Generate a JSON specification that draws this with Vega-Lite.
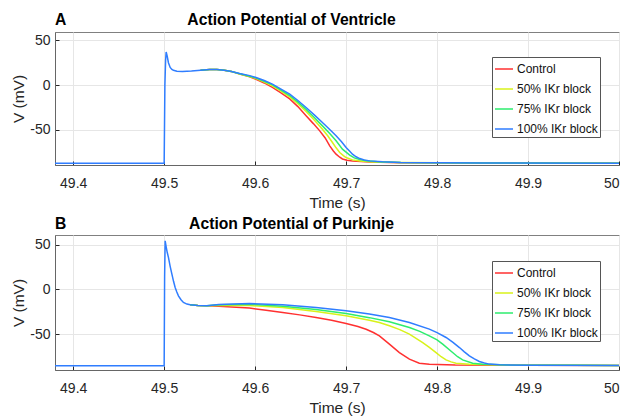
{
"$schema": "https://vega.github.io/schema/vega-lite/v6.json",
"padding": {"left": 11, "top": 11, "right": 5, "bottom": 1},
"spacing": 4,
"resolve": {"legend": {"color": "independent"}},
"config": {
  "font": "Liberation Sans",
  "view": {"stroke": "#808080", "strokeWidth": 1},
  "axis": {"labelFontSize": 14, "labelColor": "#262626", "titleFontSize": 15.5, "titleFontWeight": "normal", "titleColor": "#262626", "gridColor": "#e6e6e6", "gridWidth": 1, "tickColor": "#262626", "tickSize": -4, "domainColor": "#666666"},
  "axisX": {"labelPadding": 15, "titlePadding": 5},
  "axisY": {"labelPadding": 9, "titlePadding": 3},
  "legend": {"orient": "none", "symbolType": "stroke", "symbolSize": 324, "symbolStrokeWidth": 1.5, "labelFontSize": 12, "labelColor": "#111111", "strokeColor": "#555555", "fillColor": "#ffffff", "padding": 2, "rowPadding": 4, "labelOffset": 3}
},
"datasets": {
"ven": [
{"s":"Control","t":49.54,"v":16.7},{"s":"Control","t":49.55,"v":17.3},{"s":"Control","t":49.558,"v":17.4},{"s":"Control","t":49.566,"v":16.6},{"s":"Control","t":49.574,"v":15.3},
{"s":"Control","t":49.583,"v":12.3},{"s":"Control","t":49.594,"v":9.3},{"s":"Control","t":49.601,"v":6.6},{"s":"Control","t":49.61,"v":2.4},{"s":"Control","t":49.619,"v":-2.6},{"s":"Control","t":49.628,"v":-8.5},{"s":"Control","t":49.638,"v":-15.4},{"s":"Control","t":49.647,"v":-24},{"s":"Control","t":49.656,"v":-34.2},{"s":"Control","t":49.664,"v":-43},{"s":"Control","t":49.671,"v":-51.1},{"s":"Control","t":49.677,"v":-59},{"s":"Control","t":49.682,"v":-67.8},{"s":"Control","t":49.686,"v":-73.5},{"s":"Control","t":49.689,"v":-77.1},{"s":"Control","t":49.693,"v":-80.5},{"s":"Control","t":49.696,"v":-82.5},{"s":"Control","t":49.701,"v":-84},{"s":"Control","t":49.707,"v":-84.8},{"s":"Control","t":49.726,"v":-85.8},{"s":"Control","t":49.76,"v":-86.6},{"s":"Control","t":49.85,"v":-87},{"s":"Control","t":50,"v":-87.2},
{"s":"50% IKr block","t":49.54,"v":16.7},{"s":"50% IKr block","t":49.55,"v":17.3},{"s":"50% IKr block","t":49.558,"v":17.4},{"s":"50% IKr block","t":49.566,"v":16.6},{"s":"50% IKr block","t":49.574,"v":15.3},
{"s":"50% IKr block","t":49.583,"v":12.4},{"s":"50% IKr block","t":49.594,"v":9.6},{"s":"50% IKr block","t":49.601,"v":7.2},{"s":"50% IKr block","t":49.61,"v":3.5},{"s":"50% IKr block","t":49.619,"v":-0.8},{"s":"50% IKr block","t":49.628,"v":-6.3},{"s":"50% IKr block","t":49.638,"v":-13.1},{"s":"50% IKr block","t":49.647,"v":-20.8},{"s":"50% IKr block","t":49.656,"v":-29.5},{"s":"50% IKr block","t":49.665,"v":-39},{"s":"50% IKr block","t":49.674,"v":-49.2},{"s":"50% IKr block","t":49.68,"v":-56.8},{"s":"50% IKr block","t":49.685,"v":-64.1},{"s":"50% IKr block","t":49.689,"v":-70},{"s":"50% IKr block","t":49.693,"v":-75.3},{"s":"50% IKr block","t":49.697,"v":-78.8},{"s":"50% IKr block","t":49.7,"v":-80.9},{"s":"50% IKr block","t":49.707,"v":-83.5},{"s":"50% IKr block","t":49.715,"v":-84.8},{"s":"50% IKr block","t":49.73,"v":-85.8},{"s":"50% IKr block","t":49.76,"v":-86.5},{"s":"50% IKr block","t":49.85,"v":-87},{"s":"50% IKr block","t":50,"v":-87.2},
{"s":"75% IKr block","t":49.54,"v":16.7},{"s":"75% IKr block","t":49.55,"v":17.3},{"s":"75% IKr block","t":49.558,"v":17.4},{"s":"75% IKr block","t":49.566,"v":16.6},{"s":"75% IKr block","t":49.574,"v":15.3},
{"s":"75% IKr block","t":49.583,"v":12.6},{"s":"75% IKr block","t":49.594,"v":9.9},{"s":"75% IKr block","t":49.601,"v":7.8},{"s":"75% IKr block","t":49.61,"v":4.3},{"s":"75% IKr block","t":49.619,"v":0.3},{"s":"75% IKr block","t":49.628,"v":-5.2},{"s":"75% IKr block","t":49.638,"v":-11.6},{"s":"75% IKr block","t":49.647,"v":-19},{"s":"75% IKr block","t":49.656,"v":-27.3},{"s":"75% IKr block","t":49.665,"v":-36.2},{"s":"75% IKr block","t":49.674,"v":-45.5},{"s":"75% IKr block","t":49.682,"v":-54},{"s":"75% IKr block","t":49.689,"v":-62.2},{"s":"75% IKr block","t":49.696,"v":-71.5},{"s":"75% IKr block","t":49.704,"v":-78.2},{"s":"75% IKr block","t":49.709,"v":-81.3},{"s":"75% IKr block","t":49.715,"v":-83.1},{"s":"75% IKr block","t":49.722,"v":-84.4},{"s":"75% IKr block","t":49.735,"v":-85.5},{"s":"75% IKr block","t":49.76,"v":-86.4},{"s":"75% IKr block","t":49.85,"v":-87},{"s":"75% IKr block","t":50,"v":-87.2},
{"s":"100% IKr block","t":49.38,"v":-87.3},{"s":"100% IKr block","t":49.5,"v":-87.3},{"s":"100% IKr block","t":49.5008,"v":0},{"s":"100% IKr block","t":49.5016,"v":28},{"s":"100% IKr block","t":49.5022,"v":37},{"s":"100% IKr block","t":49.5034,"v":32},{"s":"100% IKr block","t":49.5047,"v":25},{"s":"100% IKr block","t":49.5066,"v":19.7},{"s":"100% IKr block","t":49.5085,"v":17.5},{"s":"100% IKr block","t":49.5102,"v":16.5},{"s":"100% IKr block","t":49.514,"v":15.6},{"s":"100% IKr block","t":49.52,"v":15.3},{"s":"100% IKr block","t":49.53,"v":15.8},{"s":"100% IKr block","t":49.54,"v":16.7},{"s":"100% IKr block","t":49.55,"v":17.3},{"s":"100% IKr block","t":49.558,"v":17.4},{"s":"100% IKr block","t":49.566,"v":16.6},{"s":"100% IKr block","t":49.574,"v":15.3},
{"s":"100% IKr block","t":49.583,"v":13},{"s":"100% IKr block","t":49.594,"v":10.6},{"s":"100% IKr block","t":49.601,"v":8.5},{"s":"100% IKr block","t":49.61,"v":5.1},{"s":"100% IKr block","t":49.619,"v":1.1},{"s":"100% IKr block","t":49.628,"v":-4.1},{"s":"100% IKr block","t":49.638,"v":-10.1},{"s":"100% IKr block","t":49.647,"v":-17.2},{"s":"100% IKr block","t":49.656,"v":-25},{"s":"100% IKr block","t":49.665,"v":-33.2},{"s":"100% IKr block","t":49.674,"v":-41.8},{"s":"100% IKr block","t":49.682,"v":-49.5},{"s":"100% IKr block","t":49.689,"v":-56.6},{"s":"100% IKr block","t":49.695,"v":-63.3},{"s":"100% IKr block","t":49.7,"v":-69.7},{"s":"100% IKr block","t":49.704,"v":-73.8},{"s":"100% IKr block","t":49.707,"v":-77.1},{"s":"100% IKr block","t":49.711,"v":-80},{"s":"100% IKr block","t":49.715,"v":-82},{"s":"100% IKr block","t":49.72,"v":-83.5},{"s":"100% IKr block","t":49.726,"v":-84.6},{"s":"100% IKr block","t":49.74,"v":-85.7},{"s":"100% IKr block","t":49.76,"v":-86.3},{"s":"100% IKr block","t":49.85,"v":-86.9},{"s":"100% IKr block","t":50,"v":-87.2}
],
"pur": [
{"s":"Control","t":49.5286,"v":-17.2},{"s":"Control","t":49.537,"v":-17.9},{"s":"Control","t":49.547,"v":-18.2},
{"s":"Control","t":49.56,"v":-18.9},{"s":"Control","t":49.5937,"v":-20.9},{"s":"Control","t":49.612,"v":-23.2},{"s":"Control","t":49.6303,"v":-25.8},{"s":"Control","t":49.649,"v":-28.5},{"s":"Control","t":49.667,"v":-31.5},{"s":"Control","t":49.684,"v":-34.6},{"s":"Control","t":49.7,"v":-38.2},{"s":"Control","t":49.713,"v":-41.6},{"s":"Control","t":49.722,"v":-44.7},{"s":"Control","t":49.73,"v":-48.3},{"s":"Control","t":49.7366,"v":-52},{"s":"Control","t":49.7476,"v":-61.3},{"s":"Control","t":49.7586,"v":-70.8},{"s":"Control","t":49.7696,"v":-78.2},{"s":"Control","t":49.7805,"v":-82.7},{"s":"Control","t":49.7915,"v":-84},{"s":"Control","t":49.82,"v":-84.9},{"s":"Control","t":49.9,"v":-85.2},{"s":"Control","t":50,"v":-85.3},
{"s":"50% IKr block","t":49.5286,"v":-17.2},{"s":"50% IKr block","t":49.537,"v":-17.9},{"s":"50% IKr block","t":49.547,"v":-18.2},
{"s":"50% IKr block","t":49.56,"v":-17.9},{"s":"50% IKr block","t":49.5937,"v":-18},{"s":"50% IKr block","t":49.6303,"v":-20.2},{"s":"50% IKr block","t":49.667,"v":-24.7},{"s":"50% IKr block","t":49.7,"v":-29.6},{"s":"50% IKr block","t":49.7256,"v":-34.5},{"s":"50% IKr block","t":49.7366,"v":-37.1},{"s":"50% IKr block","t":49.7476,"v":-40.8},{"s":"50% IKr block","t":49.759,"v":-45},{"s":"50% IKr block","t":49.7696,"v":-50.1},{"s":"50% IKr block","t":49.7842,"v":-59.6},{"s":"50% IKr block","t":49.7915,"v":-65},{"s":"50% IKr block","t":49.7989,"v":-70.8},{"s":"50% IKr block","t":49.8045,"v":-75.5},{"s":"50% IKr block","t":49.8099,"v":-79},{"s":"50% IKr block","t":49.8155,"v":-81.3},{"s":"50% IKr block","t":49.8209,"v":-82.7},{"s":"50% IKr block","t":49.8355,"v":-84},{"s":"50% IKr block","t":49.87,"v":-84.9},{"s":"50% IKr block","t":49.95,"v":-85.2},{"s":"50% IKr block","t":50,"v":-85.3},
{"s":"75% IKr block","t":49.5286,"v":-17.2},{"s":"75% IKr block","t":49.537,"v":-17.9},{"s":"75% IKr block","t":49.547,"v":-18.2},
{"s":"75% IKr block","t":49.56,"v":-17.2},{"s":"75% IKr block","t":49.5937,"v":-16.5},{"s":"75% IKr block","t":49.6303,"v":-18.7},{"s":"75% IKr block","t":49.667,"v":-22.5},{"s":"75% IKr block","t":49.7,"v":-27},{"s":"75% IKr block","t":49.7256,"v":-31.6},{"s":"75% IKr block","t":49.7476,"v":-36.3},{"s":"75% IKr block","t":49.7696,"v":-42.7},{"s":"75% IKr block","t":49.781,"v":-47},{"s":"75% IKr block","t":49.7915,"v":-52},{"s":"75% IKr block","t":49.8,"v":-56.5},{"s":"75% IKr block","t":49.8062,"v":-61.3},{"s":"75% IKr block","t":49.8171,"v":-70.8},{"s":"75% IKr block","t":49.8226,"v":-75.5},{"s":"75% IKr block","t":49.8281,"v":-79},{"s":"75% IKr block","t":49.8391,"v":-82.7},{"s":"75% IKr block","t":49.8501,"v":-84},{"s":"75% IKr block","t":49.88,"v":-84.9},{"s":"75% IKr block","t":49.95,"v":-85.2},{"s":"75% IKr block","t":50,"v":-85.3},
{"s":"100% IKr block","t":49.38,"v":-85.5},{"s":"100% IKr block","t":49.5,"v":-85.5},{"s":"100% IKr block","t":49.5005,"v":15},{"s":"100% IKr block","t":49.5011,"v":54.7},{"s":"100% IKr block","t":49.5022,"v":48},{"s":"100% IKr block","t":49.5034,"v":41.5},{"s":"100% IKr block","t":49.5047,"v":36},{"s":"100% IKr block","t":49.5066,"v":26},{"s":"100% IKr block","t":49.5085,"v":17.3},{"s":"100% IKr block","t":49.5103,"v":9.2},{"s":"100% IKr block","t":49.5121,"v":2.2},{"s":"100% IKr block","t":49.5139,"v":-2.8},{"s":"100% IKr block","t":49.5157,"v":-7.1},{"s":"100% IKr block","t":49.5185,"v":-11.5},{"s":"100% IKr block","t":49.5212,"v":-14.6},{"s":"100% IKr block","t":49.525,"v":-16.4},{"s":"100% IKr block","t":49.5286,"v":-17.2},{"s":"100% IKr block","t":49.537,"v":-17.9},{"s":"100% IKr block","t":49.547,"v":-18.2},
{"s":"100% IKr block","t":49.56,"v":-16.8},{"s":"100% IKr block","t":49.5937,"v":-15.7},{"s":"100% IKr block","t":49.6303,"v":-17.2},{"s":"100% IKr block","t":49.667,"v":-20.2},{"s":"100% IKr block","t":49.7,"v":-23.9},{"s":"100% IKr block","t":49.7256,"v":-27.6},{"s":"100% IKr block","t":49.7476,"v":-31.5},{"s":"100% IKr block","t":49.7696,"v":-37.1},{"s":"100% IKr block","t":49.7915,"v":-44.5},{"s":"100% IKr block","t":49.8,"v":-48.5},{"s":"100% IKr block","t":49.8099,"v":-53.9},{"s":"100% IKr block","t":49.8175,"v":-59.3},{"s":"100% IKr block","t":49.8246,"v":-65.2},{"s":"100% IKr block","t":49.83,"v":-70},{"s":"100% IKr block","t":49.8355,"v":-74.5},{"s":"100% IKr block","t":49.841,"v":-78},{"s":"100% IKr block","t":49.8465,"v":-80.9},{"s":"100% IKr block","t":49.852,"v":-82.6},{"s":"100% IKr block","t":49.8575,"v":-83.8},{"s":"100% IKr block","t":49.8685,"v":-84.5},{"s":"100% IKr block","t":49.9,"v":-85},{"s":"100% IKr block","t":50,"v":-85.3}
]
},
"vconcat": [
{
  "width": 564, "height": 133,
  "layer": [
    {
      "data": {"name": "ven"},
      "encoding": {
        "x": {"field": "t", "type": "quantitative", "scale": {"domain": [49.38, 50], "nice": false, "zero": false}, "axis": {"values": [49.4, 49.5, 49.6, 49.7, 49.8, 49.9, 50], "format": "~f", "title": "Time (s)"}},
        "y": {"field": "v", "type": "quantitative", "scale": {"domain": [-89.2, 59.3], "nice": false, "zero": false}, "axis": {"values": [-50, 0, 50], "labelExpr": "'' + datum.value", "title": "V (mV)"}},
        "color": {"field": "s", "type": "nominal", "sort": null, "scale": {"domain": ["Control", "50% IKr block", "75% IKr block", "100% IKr block"], "range": ["#ff3030", "#d8f21a", "#2ded6e", "#2f7dff"]}, "legend": {"title": null, "legendX": 437, "legendY": 25}}
      },
      "layer": [
        {"transform": [{"filter": "datum.s == 'Control'"}], "mark": {"type": "line", "strokeWidth": 1.5}},
        {"transform": [{"filter": "datum.s == '50% IKr block'"}], "mark": {"type": "line", "strokeWidth": 1.5}},
        {"transform": [{"filter": "datum.s == '75% IKr block'"}], "mark": {"type": "line", "strokeWidth": 1.5}},
        {"transform": [{"filter": "datum.s == '100% IKr block'"}], "mark": {"type": "line", "strokeWidth": 1.5}}
      ]
    },
    {"data": {"values": [{}]},
     "mark": {"type": "text", "text": "A", "align": "left", "baseline": "alphabetic", "dy": -7, "fontSize": 15.7, "fontWeight": "bold", "color": "#000000"},
     "encoding": {"x": {"datum": 49.38}, "y": {"datum": 59.3}}},
    {"data": {"values": [{}]},
     "mark": {"type": "text", "text": "Action Potential of Ventricle", "align": "center", "baseline": "alphabetic", "dy": -7, "fontSize": 15.7, "fontWeight": "bold", "color": "#000000"},
     "encoding": {"x": {"datum": 49.64}, "y": {"datum": 59.3}}}
  ]
},
{
  "width": 564, "height": 135,
  "layer": [
    {
      "data": {"name": "pur"},
      "encoding": {
        "x": {"field": "t", "type": "quantitative", "scale": {"domain": [49.38, 50], "nice": false, "zero": false}, "axis": {"values": [49.4, 49.5, 49.6, 49.7, 49.8, 49.9, 50], "format": "~f", "title": "Time (s)"}},
        "y": {"field": "v", "type": "quantitative", "scale": {"domain": [-90.4, 61.2], "nice": false, "zero": false}, "axis": {"values": [-50, 0, 50], "labelExpr": "'' + datum.value", "title": "V (mV)"}},
        "color": {"field": "s", "type": "nominal", "sort": null, "scale": {"domain": ["Control", "50% IKr block", "75% IKr block", "100% IKr block"], "range": ["#ff3030", "#d8f21a", "#2ded6e", "#2f7dff"]}, "legend": {"title": null, "legendX": 437, "legendY": 26}}
      },
      "layer": [
        {"transform": [{"filter": "datum.s == 'Control'"}], "mark": {"type": "line", "strokeWidth": 1.5}},
        {"transform": [{"filter": "datum.s == '50% IKr block'"}], "mark": {"type": "line", "strokeWidth": 1.5}},
        {"transform": [{"filter": "datum.s == '75% IKr block'"}], "mark": {"type": "line", "strokeWidth": 1.5}},
        {"transform": [{"filter": "datum.s == '100% IKr block'"}], "mark": {"type": "line", "strokeWidth": 1.5}}
      ]
    },
    {"data": {"values": [{}]},
     "mark": {"type": "text", "text": "B", "align": "left", "baseline": "alphabetic", "dy": -6, "fontSize": 15.7, "fontWeight": "bold", "color": "#000000"},
     "encoding": {"x": {"datum": 49.38}, "y": {"datum": 61.2}}},
    {"data": {"values": [{}]},
     "mark": {"type": "text", "text": "Action Potential of Purkinje", "align": "center", "baseline": "alphabetic", "dy": -6, "fontSize": 15.7, "fontWeight": "bold", "color": "#000000"},
     "encoding": {"x": {"datum": 49.64}, "y": {"datum": 61.2}}}
  ]
}
]
}
